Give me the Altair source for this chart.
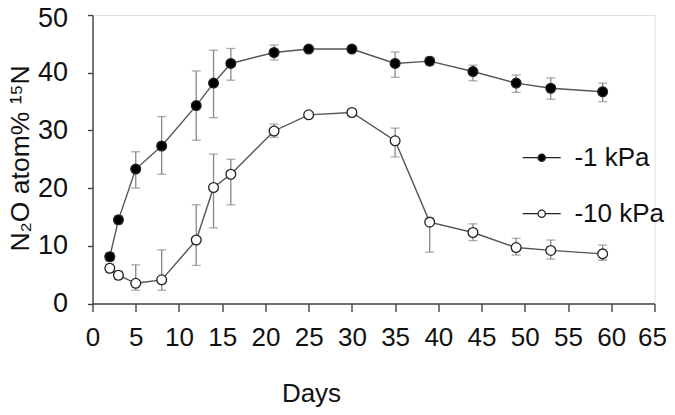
import altair as alt
import pandas as pd

days = [2, 3, 5, 8, 12, 14, 16, 21, 25, 30, 35, 39, 44, 49, 53, 59]

m1_mean = [8.1, 14.5, 23.3, 27.3, 34.3, 38.2, 41.6, 43.5, 44.1, 44.1, 41.6, 42.0, 40.2, 38.2, 37.3, 36.7]
m1_lo = [7.4, 13.8, 20.0, 22.4, 28.3, 32.2, 38.7, 42.2, 43.7, 43.7, 39.2, 41.3, 38.6, 36.6, 35.4, 35.0]
m1_hi = [8.8, 15.2, 26.3, 32.4, 40.3, 43.9, 44.2, 44.8, 44.5, 44.5, 43.6, 42.7, 41.3, 39.6, 39.1, 38.2]

m10_mean = [6.1, 4.9, 3.5, 4.1, 11.0, 20.1, 22.4, 29.9, 32.7, 33.1, 28.2, 14.1, 12.3, 9.7, 9.2, 8.6]
m10_lo = [5.4, 4.2, 2.3, 2.3, 6.6, 13.1, 17.1, 28.8, 32.3, 32.7, 25.4, 8.9, 10.9, 8.4, 7.7, 7.5]
m10_hi = [6.8, 5.6, 6.7, 9.3, 17.1, 25.9, 25.0, 31.1, 33.1, 33.5, 30.4, 14.8, 13.8, 11.3, 11.0, 10.1]

series_names = ["-1 kPa", "-10 kPa"]
series_fill = ["#000000", "#ffffff"]
x_ticks = list(range(0, 70, 5))
y_ticks = list(range(0, 55, 5))

rows = []
for name, mean, lo, hi in [
    (series_names[0], m1_mean, m1_lo, m1_hi),
    (series_names[1], m10_mean, m10_lo, m10_hi),
]:
    for d, m, l, h in zip(days, mean, lo, hi):
        rows.append({"day": d, "value": m, "lo": l, "hi": h, "series": name})
df = pd.DataFrame(rows)

FONT = "Liberation Sans"

xscale = alt.Scale(domain=[0, 65], nice=False, zero=False)
yscale = alt.Scale(domain=[0, 50], nice=False)

x_axis = alt.Axis(
    values=x_ticks, tickSize=8, labelPadding=13, labelFontSize=26, labelFont=FONT,
    labelColor="#111", labelFlush=False, labelOverlap=False, grid=False,
    labelOffset={"condition": {"test": "datum.value === 65", "value": -2.5}, "value": 0},
    domainColor="#444", tickColor="#444", domainWidth=1.4, tickWidth=1.4,
    title="Days", titleFontSize=26, titleFont=FONT, titleFontWeight="normal",
    titleColor="#111", titleX=218.5, titleY=98, titleAlign="center",
    titleBaseline="alphabetic",
)
y_axis = alt.Axis(
    values=y_ticks, labelExpr="datum.value % 10 === 0 ? datum.label : ''",
    tickSize=5, labelPadding=20, labelFontSize=27, labelFont=FONT,
    labelColor="#111", labelFlush=False, labelOverlap=False, grid=False,
    labelOffset={"condition": {"test": "datum.value === 50", "value": 3.5}, "value": 0},
    domainColor="#444", tickColor="#444", domainWidth=1.4, tickWidth=1.4,
    title="N\u2082O atom% \u00b9\u2075N", titleFontSize=26.5, titleFont=FONT,
    titleFontWeight="normal", titleColor="#111", titleAngle=270,
    titleX=-64.5, titleY=143, titleAlign="center", titleBaseline="alphabetic",
)

base = alt.Chart(df)

err = base.mark_rule(color="#888888", strokeWidth=1.3).encode(
    x=alt.X("day:Q", scale=xscale, axis=x_axis),
    y=alt.Y("lo:Q", scale=yscale, axis=y_axis),
    y2="hi:Q",
)
cap_lo = base.mark_tick(orient="horizontal", size=9, thickness=1.3, color="#888888").encode(
    x=alt.X("day:Q", scale=xscale), y=alt.Y("lo:Q", scale=yscale)
)
cap_hi = base.mark_tick(orient="horizontal", size=9, thickness=1.3, color="#888888").encode(
    x=alt.X("day:Q", scale=xscale), y=alt.Y("hi:Q", scale=yscale)
)
lines = base.mark_line(color="#555555", strokeWidth=1.4).encode(
    x=alt.X("day:Q", scale=xscale),
    y=alt.Y("value:Q", scale=yscale),
    detail="series:N",
)

sym_path = ("M-1,0L-0.19,0M0.19,0L1,0"
            "M-0.19,0A0.19,0.19,0,1,1,0.19,0A0.19,0.19,0,1,1,-0.19,0Z")

points = base.mark_point(filled=True, size=95, stroke="#222222", strokeWidth=1.3, opacity=1).encode(
    x=alt.X("day:Q", scale=xscale),
    y=alt.Y("value:Q", scale=yscale),
    fill=alt.Fill(
        "series:N",
        scale=alt.Scale(domain=series_names, range=series_fill),
        legend=alt.Legend(
            title=None, orient="none", legendX=429.2, legendY=122.7,
            symbolType=sym_path, symbolSize=1444, symbolStrokeWidth=1.3,
            symbolStrokeColor="#222222", labelFontSize=26, labelFont=FONT,
            labelColor="#111", labelOffset=12.7, rowPadding=23, padding=0,
        ),
    ),
)

chart = alt.layer(err, cap_lo, cap_hi, lines, points).properties(
    width=562, height=288.5,
    autosize=alt.AutoSizeParams(type="none"),
    padding={"left": 84.5, "top": 7, "right": 12.5, "bottom": 103.5},
).configure_view(stroke=None).configure(font=FONT, background="white")

chart.save("out.html", embed_options={"renderer": "svg", "actions": False})
